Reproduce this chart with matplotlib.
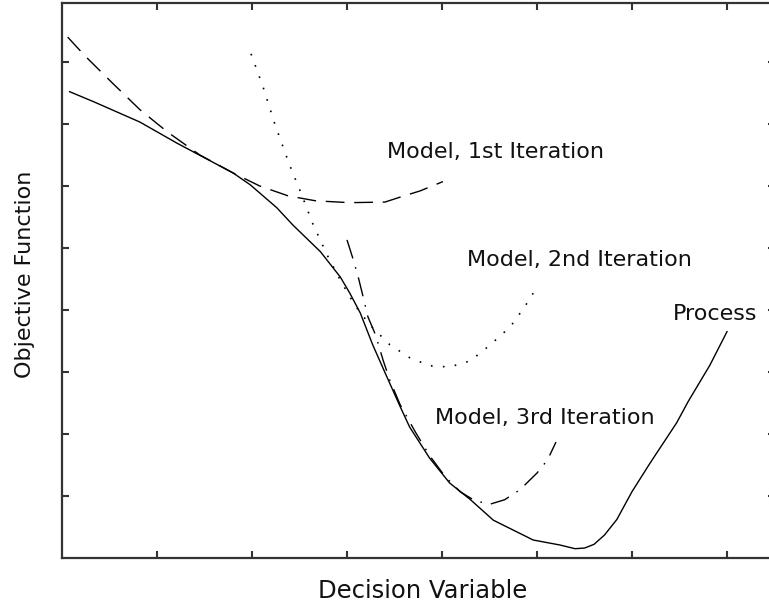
import matplotlib
matplotlib.use("Agg")
import matplotlib.pyplot as plt

# Process curve (true objective)
process_x = [0.08, 0.33, 0.82, 1.21, 1.80, 1.98, 2.26, 2.43, 2.72, 2.93, 3.03, 3.14,
             3.27, 3.42, 3.56, 3.66, 3.87, 4.08, 4.30, 4.54, 4.75, 4.96, 5.24, 5.40,
             5.50, 5.60, 5.71, 5.84, 6.00, 6.19, 6.47, 6.59, 6.82, 7.00]
process_y = [7.52, 7.36, 7.03, 6.69, 6.21, 6.02, 5.65, 5.37, 4.94, 4.53, 4.27, 3.95,
             3.44, 2.92, 2.44, 2.11, 1.61, 1.21, 0.94, 0.61, 0.45, 0.29, 0.21, 0.15,
             0.16, 0.22, 0.37, 0.62, 1.07, 1.53, 2.18, 2.52, 3.11, 3.65]

# Model, 1st iteration
model1_x = [0.06, 0.24, 0.53, 0.82, 1.11, 1.45, 1.80, 2.08, 2.38, 2.67, 3.03, 3.40,
            3.56, 3.77, 4.01]
model1_y = [8.40, 8.10, 7.66, 7.23, 6.87, 6.50, 6.21, 6.00, 5.84, 5.76, 5.73, 5.74,
            5.82, 5.92, 6.07]

# Model, 2nd iteration
model2_x = [1.99, 2.12, 2.24, 2.39, 2.52, 2.64, 2.79, 2.93, 3.08, 3.24, 3.45, 3.66,
            3.87, 4.08, 4.30, 4.51, 4.72, 4.87, 4.96]
model2_y = [8.13, 7.58, 7.00, 6.36, 5.87, 5.39, 4.89, 4.48, 4.08, 3.76, 3.44, 3.23,
            3.10, 3.08, 3.18, 3.44, 3.73, 4.05, 4.27]

# Model, 3rd iteration
model3_x = [3.00, 3.06, 3.12, 3.17, 3.22, 3.30, 3.38, 3.45, 3.56, 3.72, 3.87, 4.03,
            4.19, 4.35, 4.51, 4.66, 4.82, 5.00, 5.11, 5.20]
model3_y = [5.13, 4.84, 4.52, 4.21, 3.89, 3.60, 3.19, 2.87, 2.47, 2.03, 1.65, 1.32,
            1.07, 0.92, 0.87, 0.94, 1.10, 1.37, 1.58, 1.87]

W, H = 769, 607
fig = plt.figure(figsize=(W / 100, H / 100), dpi=100)
# axes runs a little past the right edge, as in the reference
ax = fig.add_axes([62 / W, (H - 558) / H, 712.5 / W, 555 / H])

lw = 1.0
ax.plot(process_x, process_y, color='black', linewidth=lw)
ax.plot(model1_x, model1_y, color='black', linewidth=lw, dashes=(13.5, 7))
ax.plot(model2_x, model2_y, color='black', linewidth=1.2, dashes=(1.0, 6.2))
ax.plot(model3_x, model3_y, color='black', linewidth=lw, dashes=(14, 6.5, 1.2, 6.5))

fs = 16
ax.text(3.42, 6.45, 'Model, 1st Iteration', fontsize=fs, va='baseline', color='#111111')
ax.text(4.26, 4.71, 'Model, 2nd Iteration', fontsize=fs, va='baseline', color='#111111')
ax.text(6.43, 3.84, 'Process', fontsize=fs, va='baseline', color='#111111')
ax.text(3.93, 2.16, 'Model, 3rd Iteration', fontsize=fs, va='baseline', color='#111111')

ax.set_xlim(0, 7.5)
ax.set_ylim(0, 8.95)
ax.set_xticks(range(1, 8))
ax.set_yticks(range(1, 9))
ax.set_xticklabels([])
ax.set_yticklabels([])
ax.tick_params(direction='in', length=5, width=1.5, color='#333333',
               top=True, right=True)
for sp in ax.spines.values():
    sp.set_linewidth(1.6)
    sp.set_color('#333333')

ax.set_xlabel('Decision Variable', fontsize=17.5, color='#111111')
ax.xaxis.set_label_coords((423 - 62) / 712.5, -0.038)
ax.set_ylabel('Objective Function', fontsize=fs, color='#111111')
ax.yaxis.set_label_coords((35 - 62) / 712.5, (558 - 274) / 555)

fig.savefig('out.png', dpi=100)
